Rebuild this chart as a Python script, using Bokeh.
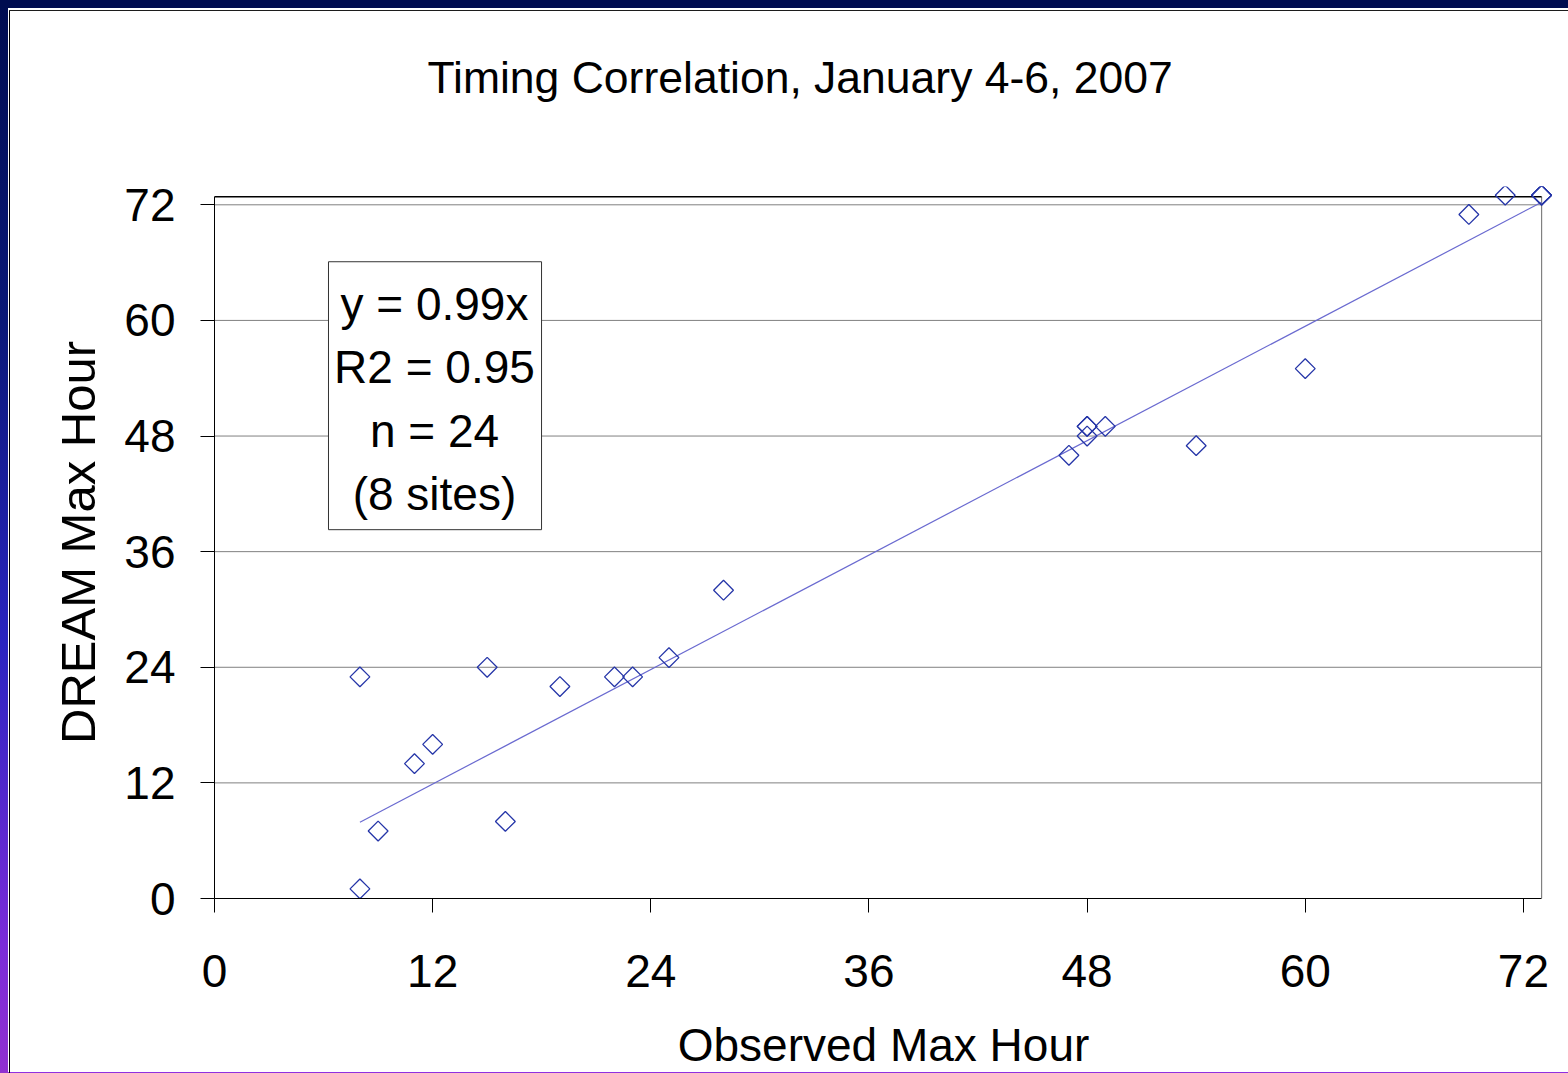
from bokeh.plotting import figure
from bokeh.models import Range1d, FixedTicker, ColumnDataSource, Title
from bokeh.core.properties import value
from bokeh.embed import file_html
from bokeh.resources import INLINE

# ---- data ----
observed = [8, 8, 9, 11, 12, 15, 16, 19, 22, 23, 25, 28,
            47, 48, 48, 48, 49, 54, 60, 69, 71, 73, 73, 73]
dream = [1, 23, 7, 14, 16, 24, 8, 22, 23, 23, 25, 32,
         46, 49, 49, 48, 49, 47, 55, 71, 73, 73, 73, 73]
slope = 0.99
fit_x = [8, 73]
fit_y = [slope * v for v in fit_x]
ticks = [0, 12, 24, 36, 48, 60, 72]
stats_lines = ["y = 0.99x", "R2 = 0.95", "n = 24", "(8 sites)"]
title_text = "Timing Correlation, January 4-6, 2007"
x_label = "Observed Max Hour"
y_label = "DREAM Max Hour"

# plot-area extent (chart's own axes box)
X_MAX = 73
Y_MAX = 72.83

FONT = "Liberation Sans"

p = figure(width=1568, height=1073, output_backend="svg", toolbar_location=None,
           x_range=Range1d(0, 73.6), y_range=Range1d(0, 73.9),
           min_border_left=214, min_border_right=16,
           min_border_top=186, min_border_bottom=175,
           background_fill_color="white", border_fill_color="white",
           border_fill_alpha=0.0)

p.styles = {
    "background": (
        "linear-gradient(#1c1c1c,#1c1c1c) 9px 10px / 100% 1px no-repeat, "
        "linear-gradient(#000000,#000000) 9px 10px / 1px 100% no-repeat, "
        "linear-gradient(#000c50,#000c50) 0 0 / 100% 8px no-repeat, "
        "linear-gradient(to bottom,#000c50 0%,#0a1878 30%,#2a24c0 60%,#7a2cd8 88%,#9030d0 100%) 0 0 / 8px 100% no-repeat, "
        "linear-gradient(#9030e0,#9030e0) 0 1072px / 100% 1px no-repeat, "
        "#ffffff"
    )
}

p.outline_line_color = None
p.xgrid.grid_line_color = None
p.ygrid.grid_line_color = None

# horizontal gridlines + plot-area border
grid_ticks = ticks[1:]
p.segment(x0=[0] * len(grid_ticks), x1=[X_MAX] * len(grid_ticks),
          y0=grid_ticks, y1=grid_ticks, line_color="#808080", line_width=1)
p.segment(x0=[X_MAX], x1=[X_MAX], y0=[0], y1=[Y_MAX], line_color="#808080", line_width=1.2)
p.segment(x0=[0], x1=[X_MAX], y0=[Y_MAX], y1=[Y_MAX], line_color="black", line_width=1.5)

# axes
for ax in (p.xaxis[0], p.yaxis[0]):
    ax.ticker = FixedTicker(ticks=ticks)
    ax.axis_line_color = "black"
    ax.axis_line_width = 1
    ax.major_tick_line_color = "black"
    ax.major_tick_out = 14
    ax.major_tick_in = 0
    ax.minor_tick_line_color = None
    ax.major_label_text_font = FONT
    ax.major_label_text_font_size = "46px"
    ax.major_label_text_color = "black"
    ax.axis_label_text_font = FONT
    ax.axis_label_text_font_style = "normal"
    ax.axis_label_text_color = "black"
p.xaxis.bounds = (0, X_MAX)
p.yaxis.bounds = (0, Y_MAX)
p.xaxis.major_label_standoff = 42
p.yaxis.major_label_standoff = 25
p.yaxis.axis_label = y_label
p.yaxis.axis_label_text_font_size = "49px"
p.yaxis.axis_label_standoff = 16
p.xaxis.axis_label = x_label
p.xaxis.axis_label_text_font_size = "46px"
p.xaxis.axis_label_standoff = 29

# blank spacer title next to the plot area, then the real title above it
p.add_layout(Title(text=" ", text_font_size="10px", standoff=67), "above")
p.add_layout(Title(text=title_text, align="left", offset=213, vertical_align="bottom",
                   standoff=10, text_font=FONT, text_font_size="44.5px",
                   text_font_style="normal", text_color="black"), "above")

# trend line
p.line(fit_x, fit_y, line_color="#6a6ad0", line_width=1.2)

# points
src = ColumnDataSource(dict(x=observed, y=dream))
p.scatter("x", "y", source=src, marker="square", size=14, angle=0.7853981634,
          fill_color=None, line_color="#2535a8", line_width=1.3)

# stats box
p.quad(left=[6.27], right=[17.99], bottom=[38.28], top=[66.09],
       fill_color="white", line_color="#333333", line_width=1)
p.text(x=[12.1] * 4, y=[61.73, 55.19, 48.55, 42.01], text=stats_lines,
       text_align="center", text_baseline="middle",
       text_font=value(FONT), text_font_size="46px", text_color="black")

open("out.html", "w").write(file_html(p, INLINE))
